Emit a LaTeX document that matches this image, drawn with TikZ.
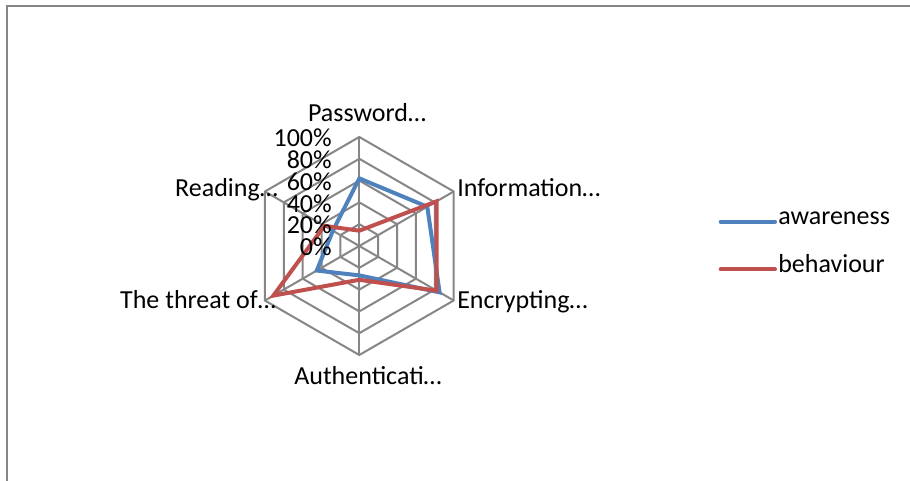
\documentclass[tikz,border=0pt]{standalone}
\usepackage{fontspec}
\setmainfont{Carlito}
\definecolor{gridgray}{RGB}{134,134,134}
\definecolor{awblue}{RGB}{79,129,189}
\definecolor{bhred}{RGB}{192,80,77}
\begin{document}
\begin{tikzpicture}[x=0.75pt,y=0.75pt,
  gridline/.style={draw=gridgray,line width=1.5pt},
  frameline/.style={draw=gridgray,line width=1.6pt},
  awline/.style={draw=awblue,line width=3pt},
  bhline/.style={draw=bhred,line width=3pt},
  lbl/.style={inner sep=0pt,font=\fontsize{19.5}{23}\selectfont},
]
\useasboundingbox (0,0) rectangle (910,481);
% frame (only top and left edges visible)
\draw[frameline] (7,0) -- (7,475) -- (910,475);

\begin{scope}[shift={(359.3,235)}]
  % rings
  \foreach \k in {1,...,5}{
    \draw[gridline] (90:{\k*21.8}) -- (30:{\k*21.8}) -- (-30:{\k*21.8}) -- (-90:{\k*21.8}) -- (-150:{\k*21.8}) -- (150:{\k*21.8}) -- cycle;
  }
  % spokes
  \foreach \a in {90,30,-30,-90,-150,150}{
    \draw[gridline] (0,0) -- (\a:109);
  }
  % awareness
  \draw[awline] (90:67.6) -- (30:78.5) -- (-30:92.7) -- (-90:29.4) -- (-150:49.1) -- (150:30.5) -- cycle;
  % behaviour
  \draw[bhline] (90:15.3) -- (30:89.4) -- (-30:89.4) -- (-90:33.8) -- (-150:99.2) -- (150:40.3) -- cycle;
\end{scope}

% percent labels
\node[lbl,anchor=east] (p0) at (332,234) {0\%};
\node[lbl,anchor=east] (p20) at (332,255.8) {20\%};
\node[lbl,anchor=east] (p40) at (332,277.6) {40\%};
\node[lbl,anchor=east] (p60) at (332,299.4) {60\%};
\node[lbl,anchor=east] (p80) at (332,321.2) {80\%};
\node[lbl,anchor=east] (p100) at (332,343) {100\%};

% axis labels
\node[lbl,anchor=base] (pw) at (367,359.3) {Password…};
\node[lbl,anchor=base west] (inf) at (457,284) {Information…};
\node[lbl,anchor=base west] (enc) at (457,172.5) {Encrypting…};
\node[lbl,anchor=base] (aut) at (368,96) {Authenticati…};
\node[lbl,anchor=base east] (thr) at (276,172.5) {The threat of…};
\node[lbl,anchor=base east] (rea) at (278,284.3) {Reading…};

% legend
\coordinate (l1a) at (720.7,259.3);
\coordinate (l1b) at (775,259.3);
\coordinate (l2a) at (720.7,211.7);
\coordinate (l2b) at (775,211.7);
\draw[awline,line cap=round] (l1a) -- (l1b);
\draw[bhline,line cap=round] (l2a) -- (l2b);
\node[lbl,anchor=mid west] (lg1) at (778,259.3) {awareness};
\node[lbl,anchor=mid west] (lg2) at (778,211.7) {behaviour};
\end{tikzpicture}
\end{document}
